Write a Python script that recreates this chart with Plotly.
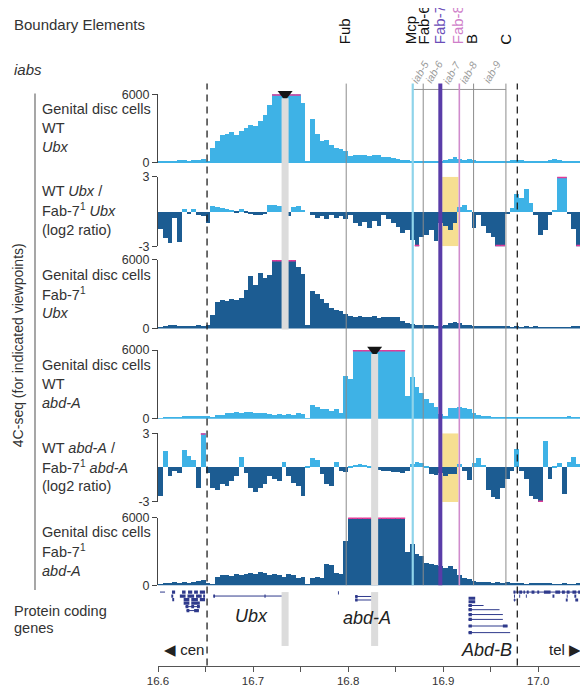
import numpy as np
import plotly.graph_objects as go

FONT = "Liberation Sans, Arial, sans-serif"
# the page body keeps an 8px margin, so the figure is sized to fill the rest of the window
OFF = 8
W, H = 588 - OFF, 699 - OFF
PLOT_X0, PLOT_X1 = 158, 581          # plot area in window pixels
L, R = PLOT_X0 - OFF, W - (PLOT_X1 - OFF)

# ---------------- data ----------------
BIN_START = 16.6
BIN_SIZE = 0.005

wt_ubx = [120, 100, 150, 130, 200, 250, 180, 220, 260, 300,
          150, 1300, 1900, 2400, 2500, 2700, 2400, 2800, 3000, 3300,
          3200, 3600, 4200, 5000, 6000, 6000, 6000, 6000, 6000, 6000,
          5200, 100, 3800, 2500, 1900, 2000, 1500, 1300, 1200, 1000,
          600, 700, 650, 700, 600, 700, 650, 500, 450, 400,
          300, 250, 200, 150, 120, 150, 100, 120, 150, 100,
          200, 300, 450, 350, 250, 300, 200, 150, 120, 100,
          100, 80, 100, 150, 200, 250, 200, 150, 100, 80,
          80, 100, 250, 300, 200, 150, 100, 80, 60]

ratio_ubx = [-1.5, -2.3, -2.7, -0.5, -2.6, 0.2, -0.2, 0.2, -0.3, -0.4,
             -1.0, 0.5, 0.4, 0.3, 0.2, 0.15, -0.1, 0.2, -0.1, -0.2,
             -0.3, -0.3, -0.2, 0.6, 0.6, 0.5, 0.0, -0.4, 0.4, 0.5,
             0.1, 0.0, -0.3, -0.5, -0.4, -0.6, -0.3, -0.5, -0.4, -0.6,
             -0.3, -1.0, -1.2, -0.9, -1.4, -0.8, -1.2, -0.3, -0.6, -1.0,
             -1.3, -1.8, -1.6, -2.4, -3.0, -2.2, -2.0, -1.6, -2.5, -1.0,
             -1.2, -1.6, -1.0, 0.4, 0.6, 0.1, -1.4, -0.3, -1.2, -1.8,
             -2.2, -3.0, -3.0, -0.2, 0.3, 1.5, 1.2, 2.0, 0.8, -0.3,
             -2.0, -1.6, -0.3, 0.1, 3.0, 3.0, -0.2, -1.5, -3.0]

fab7_ubx = [150, 200, 350, 300, 200, 250, 200, 250, 300, 250,
            300, 1200, 2300, 2500, 2400, 2600, 2500, 2700, 3400, 4600,
            3800, 4900, 4400, 4700, 6000, 6000, 6000, 6000, 6000, 5400,
            4800, 300, 3300, 3000, 2600, 2200, 1800, 1600, 1500, 1300,
            1100, 1000, 1100, 1050, 1000, 1100, 950, 1000, 1050, 1000,
            1050, 700, 450, 400, 350, 300, 350, 300, 250, 250,
            300, 450, 600, 450, 350, 300, 250, 250, 200, 250,
            200, 200, 250, 200, 150, 200, 150, 200, 150, 200,
            150, 120, 150, 100, 120, 100, 150, 250, 200]

wt_abda = [50, 60, 60, 80, 150, 200, 200, 250, 200, 250,
           200, 150, 300, 350, 450, 500, 550, 450, 550, 600,
           500, 450, 500, 400, 350, 400, 350, 400, 350, 450,
           400, 50, 1200, 1000, 800, 800, 700, 850, 500, 3700,
           3500, 6000, 6000, 6000, 6000, 6000, 6000, 6000, 6000, 6000,
           6000, 6000, 2000, 3600, 2800, 2200, 1700, 1400, 1000, 400,
           200, 900, 950, 1000, 900, 850, 500, 300, 250, 200,
           150, 150, 120, 150, 150, 120, 100, 120, 100, 80,
           100, 80, 120, 100, 80, 180, 200, 100, 80]

ratio_abda = [-2.5, 1.4, -0.8, -0.3, -0.5, 1.5, 1.0, 0.6, -1.8, 3.0,
              -0.5, -1.8, -2.0, -1.5, -1.6, -1.2, -0.8, 0.9, -0.5, -1.8,
              -2.2, -1.8, -1.5, -0.8, -1.0, -1.2, 0.5, -0.8, -1.4, -1.6,
              -2.5, 0.1, 0.8, 0.6, -0.6, -1.5, -1.6, 0.5, -0.3, -0.4,
              0.1, 0.2, 0.25, 0.2, 0.15, 0.0, -0.2, -0.3, -0.3, -0.4,
              -0.4, -0.5, -0.3, 0.3, 0.5, 0.4, 0.1, -0.6, -0.7, -0.5,
              -0.8, -0.6, -0.6, 0.3, -0.3, -1.1, 0.4, 0.8, 0.2, -2.0,
              -2.6, -2.8, -1.8, -1.0, -0.3, 1.6, -0.3, -1.0, -2.5, -2.8,
              -3.0, 2.3, -1.0, 0.1, 0.4, -2.3, 0.5, 0.9, 0.3]

fab7_abda = [150, 200, 250, 300, 250, 300, 250, 350, 450, 500,
             250, 100, 800, 900, 950, 850, 1000, 900, 1000, 1100,
             1000, 1200, 1100, 900, 1000, 900, 800, 1000, 900, 700,
             800, 100, 700, 800, 700, 1900, 1800, 1100, 1000, 4000,
             6000, 6000, 6000, 6000, 6000, 6000, 6000, 6000, 6000, 6000,
             6000, 6000, 3000, 3700, 2800, 2600, 2000, 1900, 1800, 1700,
             1600, 1700, 1500, 900, 700, 600, 400, 350, 300, 300,
             250, 300, 250, 300, 200, 250, 200, 150, 200, 250,
             200, 250, 200, 150, 150, 200, 100, 150, 200]

BOUNDARY_NAMES = ["Fub", "Mcp", "Fab-6", "Fab-7", "Fab-8", "B", "C"]
BOUNDARY_POS = [16.798, 16.868, 16.879, 16.897, 16.917, 16.932, 16.966]
IAB_NAMES = ["iab-5", "iab-6", "iab-7", "iab-8", "iab-9"]
DASHED_POS = [16.6516, 16.978]
VIEWPOINTS = [16.7337, 16.8279]
YELLOW_BOX = [16.899, 16.916]

X_TICKS = [16.6, 16.7, 16.8, 16.9, 17.0]
X_TICK_LABELS = ["16.6", "16.7", "16.8", "16.9", "17.0"]

# gene models (Mb, row)
line_start = [16.6021, 16.6290, 16.6300, 16.6582, 16.8074, 16.8074,
              16.9267, 16.9267, 16.9267, 16.9267, 16.9267, 16.9267,
              16.9740, 16.9740]
line_end = [16.6074, 16.6440, 16.6430, 16.7355, 16.8302, 16.8302,
            16.9425, 16.9593, 16.9628, 16.9628, 16.9677, 16.9705,
            17.0440, 16.9770]
line_row = [0.0, 3.3, 4.2, 0.9, 1.0, 1.8,
            3.05, 4.0, 5.1, 6.2, 7.7, 9.2,
            0.0, 1.8]

exon_start = [16.6147, 16.6253, 16.6316, 16.6380, 16.6440,
              16.6140, 16.6230, 16.6310, 16.6400, 16.6475,
              16.6150, 16.6270, 16.6350, 16.6440,
              16.6270, 16.6350,
              16.6290, 16.6350, 16.6410, 16.6300, 16.6380,
              16.6582, 16.7120, 16.7343,
              16.7893, 16.8074, 16.8280, 16.8074, 16.8280,
              16.9267, 16.9267, 16.9267, 16.9267, 16.9267, 16.9267, 16.9267, 16.9628, 16.9267,
              16.9740, 16.9775, 16.9800, 16.9845, 16.9880, 16.9930, 16.9990, 17.0060,
              17.0180, 17.0250, 17.0300, 17.0360, 17.0420,
              16.9745, 16.9800, 16.9870, 17.0150, 17.0300, 17.0380,
              16.9745, 17.0290, 17.0390]
exon_end = [16.6180, 16.6290, 16.6360, 16.6420, 16.6495,
            16.6160, 16.6290, 16.6380, 16.6460, 16.6495,
            16.6170, 16.6330, 16.6420, 16.6495,
            16.6330, 16.6440,
            16.6320, 16.6380, 16.6440, 16.6330, 16.6430,
            16.6600, 16.7132, 16.7355,
            16.7903, 16.8100, 16.8302, 16.8100, 16.8302,
            16.9337, 16.9337, 16.9302, 16.9302, 16.9302, 16.9302, 16.9302, 16.9677, 16.9302,
            16.9760, 16.9790, 16.9830, 16.9860, 16.9900, 16.9960, 17.0010, 17.0130,
            17.0230, 17.0280, 17.0330, 17.0400, 17.0440,
            16.9755, 16.9810, 16.9880, 17.0170, 17.0310, 17.0400,
            16.9755, 17.0310, 17.0420]
exon_row = [0.0, 0.0, 0.0, 0.0, 0.0,
            0.9, 0.9, 0.9, 0.9, 0.9,
            1.7, 1.7, 1.7, 1.7,
            2.5, 2.5,
            3.3, 3.3, 3.3, 4.2, 4.2,
            0.9, 0.9, 0.9,
            0.2, 1.0, 1.0, 1.8, 1.8,
            1.4, 2.2, 3.05, 4.0, 5.1, 6.2, 7.7, 7.7, 9.2,
            0.0, 0.0, 0.0, 0.0, 0.0, 0.0, 0.0, 0.0,
            0.0, 0.0, 0.0, 0.0, 0.0,
            0.9, 0.9, 0.9, 0.9, 0.9, 0.9,
            1.8, 1.8, 1.8]

# ---------------- styling helpers ----------------
LIGHT = '#3eb2e6'
DARK = '#1c5c92'
SAT = '#e23a98'
GENE = '#2f3a8c'
TXT = '#333333'


def xp(px):
    """window pixel x -> paper x"""
    return (px - PLOT_X0) / (PLOT_X1 - PLOT_X0)


def yp(py):
    """window pixel y -> paper y"""
    return (H - (py - OFF)) / H


bins = BIN_START + BIN_SIZE * (np.arange(len(wt_ubx)) + 0.5)

TRACK_TOP = [89, 173, 258, 350, 435, 521]
TRACK_BOT = [159, 244, 328, 420, 505, 590]

fig = go.Figure()

tracks = [(wt_ubx, 'signal', LIGHT), (ratio_ubx, 'ratio', None), (fab7_ubx, 'signal', DARK),
          (wt_abda, 'signal', LIGHT), (ratio_abda, 'ratio', None), (fab7_abda, 'signal', DARK)]

layout_axes = {}
for k, (vals, kind, col) in enumerate(tracks):
    ya = 'y' if k == 0 else f'y{k + 1}'
    v = np.array(vals, dtype=float)
    if kind == 'signal':
        colors = col
        lim = 6000
        rng = [0, 6000]
        tv, tt = [0, 6000], ['0', '6000']
    else:
        colors = [LIGHT if a > 0 else DARK for a in v]
        lim = 3
        rng = [-3, 3]
        tv, tt = [-3, 3], ['-3', '3']
    fig.add_trace(go.Bar(x=bins, y=v, width=BIN_SIZE,
                         marker=dict(color=colors, line=dict(width=0)),
                         xaxis='x', yaxis=ya, hoverinfo='skip'))
    sx, sy = [], []
    for b, a in zip(bins, v):
        if abs(a) >= lim:
            sx += [b - BIN_SIZE / 2, b + BIN_SIZE / 2, None]
            sy += [float(np.sign(a)) * lim] * 2 + [None]
    if sx:
        fig.add_trace(go.Scatter(x=sx, y=sy, mode='lines', line=dict(color=SAT, width=3),
                                 xaxis='x', yaxis=ya, hoverinfo='skip'))
    key = 'yaxis' if k == 0 else f'yaxis{k + 1}'
    layout_axes[key] = dict(domain=[yp(TRACK_BOT[k]), yp(TRACK_TOP[k])], range=rng, anchor='x',
                            showline=True, linecolor='#444', linewidth=1, ticks='outside',
                            ticklen=5, tickcolor='#444', tickvals=tv, ticktext=tt,
                            tickfont=dict(size=12.5, color=TXT), showgrid=False,
                            zeroline=False, fixedrange=True)

# gene track
gx, gy = [], []
for s, e, r in zip(line_start, line_end, line_row):
    gx += [s, e, None]
    gy += [r, r, None]
fig.add_trace(go.Scatter(x=gx, y=gy, mode='lines', line=dict(color=GENE, width=1),
                         xaxis='x', yaxis='y7', hoverinfo='skip'))
ex, ey = [], []
for s, e, r in zip(exon_start, exon_end, exon_row):
    ex += [s, e, None]
    ey += [r, r, None]
fig.add_trace(go.Scatter(x=ex, y=ey, mode='lines', line=dict(color=GENE, width=3.2),
                         xaxis='x', yaxis='y7', hoverinfo='skip'))
layout_axes['yaxis7'] = dict(domain=[yp(672), yp(594)], range=[16.67, -0.667], anchor='x',
                             visible=False, fixedrange=True)

# viewpoint triangles
fig.add_trace(go.Scatter(x=[VIEWPOINTS[0]], y=[6000], mode='markers', xaxis='x', yaxis='y',
                         marker=dict(symbol='triangle-down', size=13, color='#151515'),
                         cliponaxis=False, hoverinfo='skip'))
fig.add_trace(go.Scatter(x=[VIEWPOINTS[1]], y=[6000], mode='markers', xaxis='x', yaxis='y4',
                         marker=dict(symbol='triangle-down', size=13, color='#151515'),
                         cliponaxis=False, hoverinfo='skip'))

# iab double arrows: heads as markers just above track 1 (value placed at window row 84)
ARROW_PY = 84
arrow_val = 6000 * (TRACK_BOT[0] - ARROW_PY) / (TRACK_BOT[0] - TRACK_TOP[0])
HEAD = 2.2 / 950 * 1.0  # half head length in Mb (~2 px)
hx_l, hx_r = [], []
for i in range(len(IAB_NAMES)):
    a, b = BOUNDARY_POS[i + 1], BOUNDARY_POS[i + 2]
    hx_l.append(a + HEAD)
    hx_r.append(b - HEAD)
fig.add_trace(go.Scatter(x=hx_l, y=[arrow_val] * len(hx_l), mode='markers', xaxis='x', yaxis='y',
                         marker=dict(symbol='triangle-left', size=5, color='#8a8a8a'),
                         cliponaxis=False, hoverinfo='skip'))
fig.add_trace(go.Scatter(x=hx_r, y=[arrow_val] * len(hx_r), mode='markers', xaxis='x', yaxis='y',
                         marker=dict(symbol='triangle-right', size=5, color='#8a8a8a'),
                         cliponaxis=False, hoverinfo='skip'))

shapes = []
# yellow boxes
for ya in ['y2', 'y5']:
    shapes.append(dict(type='rect', xref='x', yref=ya, x0=YELLOW_BOX[0], x1=YELLOW_BOX[1],
                       y0=-3, y1=3, fillcolor='#f6df92', line=dict(width=0), layer='below'))
# iab arrow shafts
for i in range(len(IAB_NAMES)):
    a, b = BOUNDARY_POS[i + 1], BOUNDARY_POS[i + 2]
    shapes.append(dict(type='line', xref='x', yref='paper', x0=a, x1=b, y0=yp(ARROW_PY),
                       y1=yp(ARROW_PY), line=dict(color='#8a8a8a', width=0.9)))
# boundary lines
line_cols = ['#8c8c8c', '#8fd4ea', '#8c8c8c', '#5a3ca8', '#d08ccd', '#8c8c8c', '#8c8c8c']
line_w = [1, 2.2, 1, 4, 1.6, 1, 1]
for pos, c, w in zip(BOUNDARY_POS, line_cols, line_w):
    shapes.append(dict(type='line', xref='x', yref='paper', x0=pos, x1=pos,
                       y0=yp(590), y1=yp(78), line=dict(color=c, width=w), layer='above'))
# dashed lines
for pos in DASHED_POS:
    shapes.append(dict(type='line', xref='x', yref='paper', x0=pos, x1=pos,
                       y0=yp(672), y1=yp(78), line=dict(color='#222', width=1.3, dash='7px,5px'),
                       layer='above'))
# viewpoint gray bars
VP_HALF = 0.0037
for (vp, segs) in [(VIEWPOINTS[0], [(93, 329), (597, 652)]), (VIEWPOINTS[1], [(354, 590), (597, 652)])]:
    for a, b in segs:
        shapes.append(dict(type='rect', xref='x', yref='paper', x0=vp - VP_HALF, x1=vp + VP_HALF,
                           y0=yp(b), y1=yp(a), fillcolor='#dcdcdc', line=dict(width=0), layer='above'))
# left bracket line
shapes.append(dict(type='line', xref='paper', yref='paper', x0=xp(35), x1=xp(35),
                   y0=yp(595), y1=yp(88), line=dict(color='#777', width=1.3)))

ann = []


def txt(text, px, py, size=14.5, color=TXT, xanchor='left', angle=0, yanchor='middle'):
    ann.append(dict(text=text, x=xp(px), y=yp(py), xref='paper', yref='paper',
                    showarrow=False, xanchor=xanchor, yanchor=yanchor, textangle=angle,
                    font=dict(size=size, color=color, family=FONT)))


txt('Boundary Elements', 12, 18, size=15)
txt('<i>iabs</i>', 12, 64, size=15)

track_labels = [
    ['Genital disc cells', 'WT', '<i>Ubx</i>'],
    ['WT <i>Ubx</i> /', 'Fab-7<sup>1</sup> <i>Ubx</i>', '(log2 ratio)'],
    ['Genital disc cells', 'Fab-7<sup>1</sup>', '<i>Ubx</i>'],
    ['Genital disc cells', 'WT', '<i>abd-A</i>'],
    ['WT <i>abd-A</i> /', 'Fab-7<sup>1</sup> <i>abd-A</i>', '(log2 ratio)'],
    ['Genital disc cells', 'Fab-7<sup>1</sup>', '<i>abd-A</i>'],
]
for k, lines in enumerate(track_labels):
    for j, t in enumerate(lines):
        txt(t, 40, TRACK_TOP[k] + 15 + 19.5 * j)

txt('Protein coding', 12, 616)
txt('genes', 12, 634)
txt('4C-seq (for indicated viewpoints)', 18, 345, size=14, xanchor='center', angle=-90)

# boundary labels (rotated, sitting just above the boundary lines)
lab_cols = ['#111', '#111', '#111', '#6a4db8', '#cf7ec9', '#111', '#111']
lab_shift = [-0.0015, -0.0030, 0.0005, 0.0, -0.0020, -0.0020, 0.0]
for name, pos, c, dx in zip(BOUNDARY_NAMES, BOUNDARY_POS, lab_cols, lab_shift):
    ann.append(dict(text=name, x=pos + dx, y=yp(40), xref='x', yref='paper', showarrow=False,
                    textangle=-90, xanchor='center', yanchor='bottom',
                    font=dict(size=15, color=c, family=FONT)))

# iab labels
for i, name in enumerate(IAB_NAMES):
    a, b = BOUNDARY_POS[i + 1], BOUNDARY_POS[i + 2]
    ann.append(dict(text=f'<i>{name}</i>', x=(a + b) / 2 + 0.002, y=yp(66), xref='x', yref='paper',
                    showarrow=False, textangle=-60, xanchor='center', yanchor='middle',
                    font=dict(size=10.5, color='#9a9a9a', family=FONT)))

# gene labels
for t, gx_, py_ in [('<i>Ubx</i>', 16.698, 621), ('<i>abd-A</i>', 16.820, 623), ('<i>Abd-B</i>', 16.946, 656)]:
    ann.append(dict(text=t, x=gx_, y=yp(py_), xref='x', yref='paper', showarrow=False,
                    xanchor='center', yanchor='middle', font=dict(size=18, color='#222', family=FONT)))
txt('\u25C0 cen', 162, 656, size=15, color='#222')
txt('tel \u25B6', 583, 656, size=15, color='#222', xanchor='right')

fig.update_layout(
    width=W, height=H, margin=dict(l=L, r=R, t=0, b=0),
    paper_bgcolor='white', plot_bgcolor='white', showlegend=False,
    barmode='overlay', bargap=0,
    font=dict(family=FONT, size=13, color=TXT),
    xaxis=dict(range=[16.6, 17.045], anchor='y7', showline=True, linecolor='#555', linewidth=1,
               ticks='outside', ticklen=5, tickcolor='#555', tickvals=X_TICKS, ticktext=X_TICK_LABELS,
               tickfont=dict(size=11.5, color=TXT), showgrid=False, zeroline=False, fixedrange=True,
               minor=dict(dtick=0.05, tick0=16.6, ticks='outside', ticklen=5, tickcolor='#555')),
    shapes=shapes, annotations=ann, **layout_axes,
)

fig.write_html('out.html')
